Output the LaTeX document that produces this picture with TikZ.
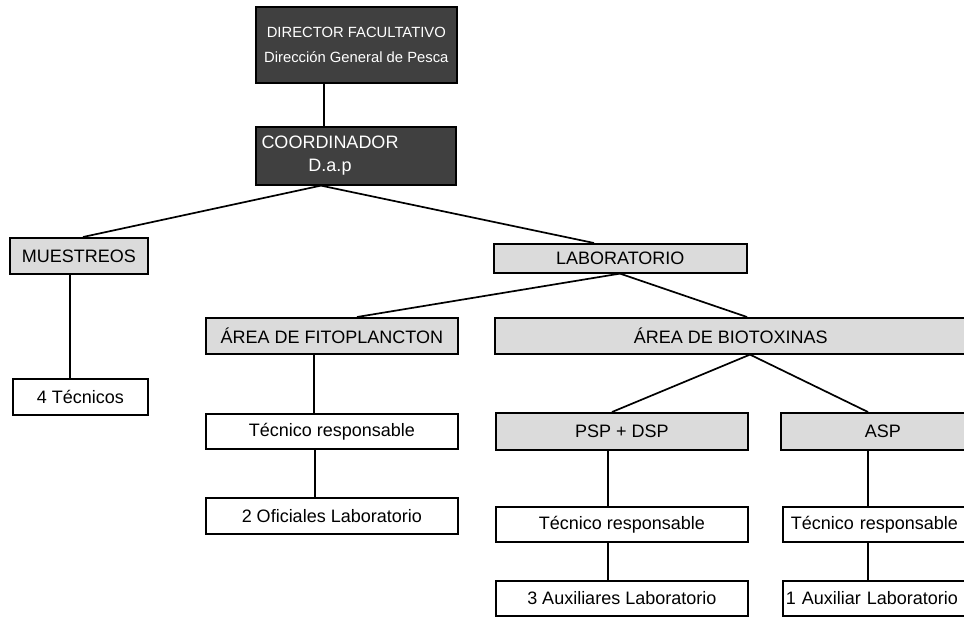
\documentclass[tikz,border=0pt]{standalone}
\usepackage{fontspec}
\setmainfont{Liberation Sans}
\tikzset{
  box/.style={draw=black, line width=1.6pt, anchor=north west, inner sep=0pt,
    font=\fontsize{18}{21}\selectfont},
  darkbox/.style={box, fill=black!75, text=white},
  greybox/.style={box, fill=black!14},
  whitebox/.style={box, fill=white},
  link/.style={line width=1.7pt},
}
\begin{document}
\begin{tikzpicture}[x=1pt,y=-1pt]
  \useasboundingbox (0,0) rectangle (964,616);
  \clip (0,0) rectangle (964,616);
  % top of the chart
  \node[darkbox, minimum width=201, minimum height=76, align=center,
    font=\fontsize{14.8}{25}\selectfont] (dir) at (255,6)
    {DIRECTOR FACULTATIVO\\Dirección General de Pesca};
  \node[darkbox, minimum width=200, minimum height=58] (coord) at (255,126) {};
  \node[align=center, text=white, font=\fontsize{18}{23}\selectfont]
    (coordtext) at (330,156) {COORDINADOR\\D.a.p};
  % second level
  \node[greybox, minimum width=138, minimum height=36] (muestreos) at (9,237) {MUESTREOS};
  \node[greybox, minimum width=253, minimum height=29] (lab) at (493,243) {LABORATORIO};
  \node[whitebox, minimum width=135, minimum height=36] (tec4) at (12,378) {4 Técnicos};
  % areas
  \node[greybox, minimum width=252, minimum height=36] (fito) at (205,317) {ÁREA DE FITOPLANCTON};
  \node[greybox, minimum width=472, minimum height=36] (bio) at (494,317) {ÁREA DE BIOTOXINAS};
  \node[whitebox, minimum width=252, minimum height=35] (tecf) at (205,413) {Técnico responsable};
  \node[whitebox, minimum width=252, minimum height=36] (ofic) at (205,497) {2 Oficiales Laboratorio};
  % biotoxins
  \node[greybox, minimum width=252, minimum height=37] (psp) at (495,412) {PSP + DSP};
  \node[greybox, minimum width=204, minimum height=37] (asp) at (780,412) {ASP};
  \node[whitebox, minimum width=252, minimum height=35] (tecp) at (495,506) {Técnico responsable};
  \node[whitebox, minimum width=252, minimum height=35] (aux3) at (495,580) {3 Auxiliares Laboratorio};
  \node[whitebox, text width=250, inner xsep=8, minimum height=35, align=left]
    (teca) at (782,506) {Técnico responsable};
  \node[whitebox, text width=250, inner xsep=3, minimum height=35, align=left]
    (aux1) at (782,580) {1 Auxiliar Laboratorio};
  % connectors
  \draw[link] (dir.south -| 324,0) -- (coord.north -| 324,0);
  \draw[link] (muestreos.north -| 83,0) -- (coord.south -| 321,0) -- (lab.north -| 594,0);
  \draw[link] (fito.north -| 357,0) -- (lab.south -| 620,0) -- (bio.north -| 747,0);
  \draw[link] (psp.north -| 612,0) -- (bio.south -| 750,0) -- (asp.north -| 868,0);
  \foreach \a/\b/\x in {muestreos/tec4/70, fito/tecf/314, tecf/ofic/315,
      psp/tecp/608, tecp/aux3/608, asp/teca/868, teca/aux1/868}
    \draw[link] (\a.south -| \x,0) -- (\b.north -| \x,0);
\end{tikzpicture}
\end{document}
